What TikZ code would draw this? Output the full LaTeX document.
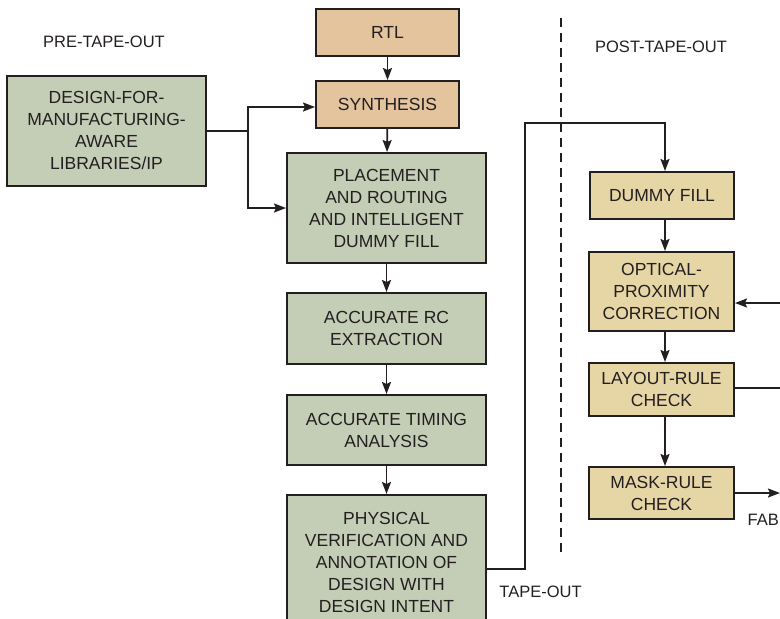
\documentclass[tikz,border=0pt]{standalone}
\usepackage{fontspec}
\setmainfont{Liberation Sans}
\usetikzlibrary{arrows.meta}
\definecolor{tanbox}{RGB}{227,196,157}
\definecolor{greenbox}{RGB}{196,205,182}
\definecolor{yelbox}{RGB}{230,214,165}
\definecolor{ink}{RGB}{35,31,32}
\tikzset{
  box/.style={draw=ink, line width=2pt, align=center, inner sep=0pt,
    font=\fontsize{17.5}{22}\selectfont, text=ink},
  tanb/.style={box, fill=tanbox},
  greenb/.style={box, fill=greenbox},
  yelb/.style={box, fill=yelbox},
  lbl/.style={font=\fontsize{16.5}{22}\selectfont, text=ink, inner sep=0pt},
  conn/.style={draw=ink, line width=1.8pt},
  arr/.style={conn, -{Stealth[length=12pt, width=9pt, inset=2pt]}}
}
\begin{document}
\begin{tikzpicture}[x=1pt, y=-1pt]
\useasboundingbox (0,0) rectangle (780,619);
\clip (0,0) rectangle (780,619);
% left / centre column
\node[tanb, minimum width=143pt, minimum height=47pt] (rtl) at (387.5,32.5) {RTL};
\node[tanb, minimum width=143pt, minimum height=47pt] (syn) at (387.5,104.5) {SYNTHESIS};
\node[greenb, minimum width=199pt, minimum height=110pt] (dfm) at (106.5,130.5) {DESIGN-FOR-\\MANUFACTURING-\\AWARE\\LIBRARIES/IP};
\node[greenb, minimum width=199pt, minimum height=110pt] (pr) at (386.5,208) {PLACEMENT\\AND ROUTING\\AND INTELLIGENT\\DUMMY FILL};
\node[greenb, minimum width=199pt, minimum height=71pt] (rc) at (386.5,328.5) {ACCURATE RC\\EXTRACTION};
\node[greenb, minimum width=199pt, minimum height=70pt] (tim) at (386.5,430) {ACCURATE TIMING\\ANALYSIS};
\node[greenb, minimum width=199pt, minimum height=134pt] (phys) at (386.5,562) {PHYSICAL\\VERIFICATION AND\\ANNOTATION OF\\DESIGN WITH\\DESIGN INTENT};
% right column
\node[yelb, minimum width=144pt, minimum height=47pt] (dummy) at (662,195.5) {DUMMY FILL};
\node[yelb, minimum width=145pt, minimum height=79pt] (opc) at (661.5,291.5) {OPTICAL-\\PROXIMITY\\CORRECTION};
\node[yelb, minimum width=145pt, minimum height=53pt] (lrc) at (661.5,389.5) {LAYOUT-RULE\\CHECK};
\node[yelb, minimum width=145pt, minimum height=52pt] (mrc) at (661.5,493) {MASK-RULE\\CHECK};
% labels
\node[lbl] (pre) at (104,42) {PRE-TAPE-OUT};
\node[lbl] (post) at (661,47) {POST-TAPE-OUT};
\node[lbl] (tape) at (540.5,592) {TAPE-OUT};
\node[lbl, anchor=east] (fabl) at (779,520) {FAB};
% dashed separator
\coordinate (dtop) at (561,18);
\coordinate (dbot) at (561,557);
\draw[draw=ink, line width=2pt, dash pattern=on 9pt off 6pt] (dtop) -- (dbot);
% vertical flow arrows
\draw[arr] (rtl) -- (syn);
\draw[arr] (syn) -- (pr);
\draw[arr] (pr) -- (rc);
\draw[arr] (rc) -- (tim);
\draw[arr] (tim) -- (phys);
\draw[arr] (dummy.south -| 665,0) -- (opc.north -| 665,0);
\draw[arr] (opc.south -| 665,0) -- (lrc.north -| 665,0);
\draw[arr] (lrc.south -| 665,0) -- (mrc.north -| 665,0);
% DFM branch
\coordinate (j) at (248,131);
\draw[conn] (dfm.east |- j) -- (j);
\draw[arr] (j) |- (syn.west |- 0,107);
\draw[arr] (j) |- (pr.west);
% tape-out path
\coordinate (t1) at (525,569);
\coordinate (t2) at (525,123);
\coordinate (t3) at (665,123);
\draw[arr] (phys.east |- t1) -- (t1) -- (t2) -- (t3) -- (dummy.north -| t3);
% right-side connectors
\coordinate (oin) at (781,303);
\draw[arr] (oin) -- (opc.east |- oin);
\coordinate (lout) at (781,388);
\draw[conn] (lrc.east |- lout) -- (lout);
\coordinate (fab) at (780,493);
\draw[arr] (mrc.east |- fab) -- (fab);
\end{tikzpicture}
\end{document}
